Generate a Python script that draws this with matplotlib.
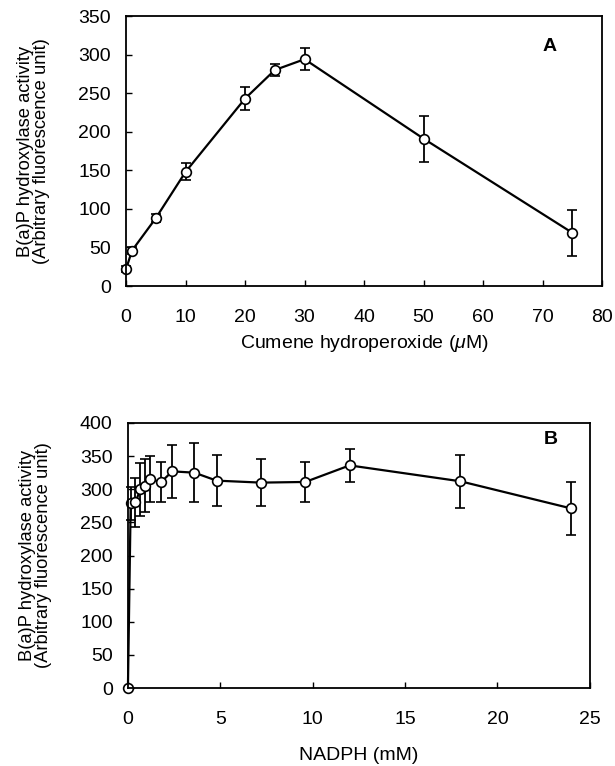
import matplotlib
matplotlib.use('Agg')
import matplotlib.pyplot as plt

plt.rcParams['font.family'] = ['Liberation Sans', 'DejaVu Sans']
plt.rcParams['mathtext.fontset'] = 'custom'
plt.rcParams['mathtext.it'] = 'Liberation Sans:italic'

# panel A: cumene hydroperoxide
chp_conc = [0, 1, 5, 10, 20, 25, 30, 50, 75]
chp_act = [22, 46, 88, 148, 243, 280, 294, 191, 69]
chp_err = [4, 4, 5, 11, 15, 8, 14, 30, 30]

# panel B: NADPH
nadph_conc = [0, 0.15, 0.4, 0.68, 0.92, 1.2, 1.8, 2.4, 3.6, 4.8, 7.2, 9.6, 12, 18, 24]
nadph_act = [0, 279, 280, 300, 305, 315, 311, 327, 325, 313, 310, 311, 336, 312, 271]
nadph_err = [0, 25, 37, 40, 40, 35, 30, 40, 45, 39, 36, 30, 25, 40, 40]

ylab = 'B(a)P hydroxylase activity\n(Arbitrary fluorescence unit)'
fs = 14

fig = plt.figure(figsize=(6.15, 7.66), dpi=100)
ax1 = fig.add_axes([0.205, 0.6266, 0.774, 0.3525])
ax2 = fig.add_axes([0.208, 0.1018, 0.751, 0.346])

def style_ax(ax):
    for s in ax.spines.values():
        s.set_linewidth(1.3)
    ax.tick_params(direction='in', length=4, width=1, labelsize=fs)
    ax.tick_params(axis='y', pad=11)
    ax.tick_params(axis='x', pad=16.5)

ax1.errorbar(chp_conc, chp_act, yerr=chp_err, color='black', lw=1.6,
             marker='o', ms=7, mfc='white', mec='black', mew=1.2,
             capsize=3.5, elinewidth=1.3, capthick=1.3)
ax1.set_xlim(0, 80)
ax1.set_ylim(0, 350)
ax1.set_xticks(range(0, 81, 10))
ax1.set_yticks(range(0, 351, 50))
ax1.set_xlabel(r'Cumene hydroperoxide ($\mu$M)', fontsize=fs, labelpad=5)
ax1.set_ylabel(ylab, fontsize=13.2, labelpad=20, linespacing=0.95)
ax1.text(0.875, 0.87, 'A', transform=ax1.transAxes, fontsize=fs, fontweight='bold')
style_ax(ax1)

ax2.errorbar(nadph_conc, nadph_act, yerr=nadph_err, color='black', lw=1.6,
             marker='o', ms=7, mfc='white', mec='black', mew=1.2,
             capsize=3.5, elinewidth=1.3, capthick=1.3)
ax2.set_xlim(0, 25)
ax2.set_ylim(0, 400)
ax2.set_xticks(range(0, 26, 5))
ax2.set_yticks(range(0, 401, 50))
ax2.set_xlabel('NADPH (mM)', fontsize=fs, labelpad=14)
ax2.set_ylabel(ylab, fontsize=13.2, labelpad=20, linespacing=0.95)
ax2.text(0.9, 0.92, 'B', transform=ax2.transAxes, fontsize=fs, fontweight='bold')
style_ax(ax2)
for ln in ax2.lines + ax1.lines:
    ln.set_clip_on(False)

fig.savefig('out.png', dpi=100, facecolor='white')
